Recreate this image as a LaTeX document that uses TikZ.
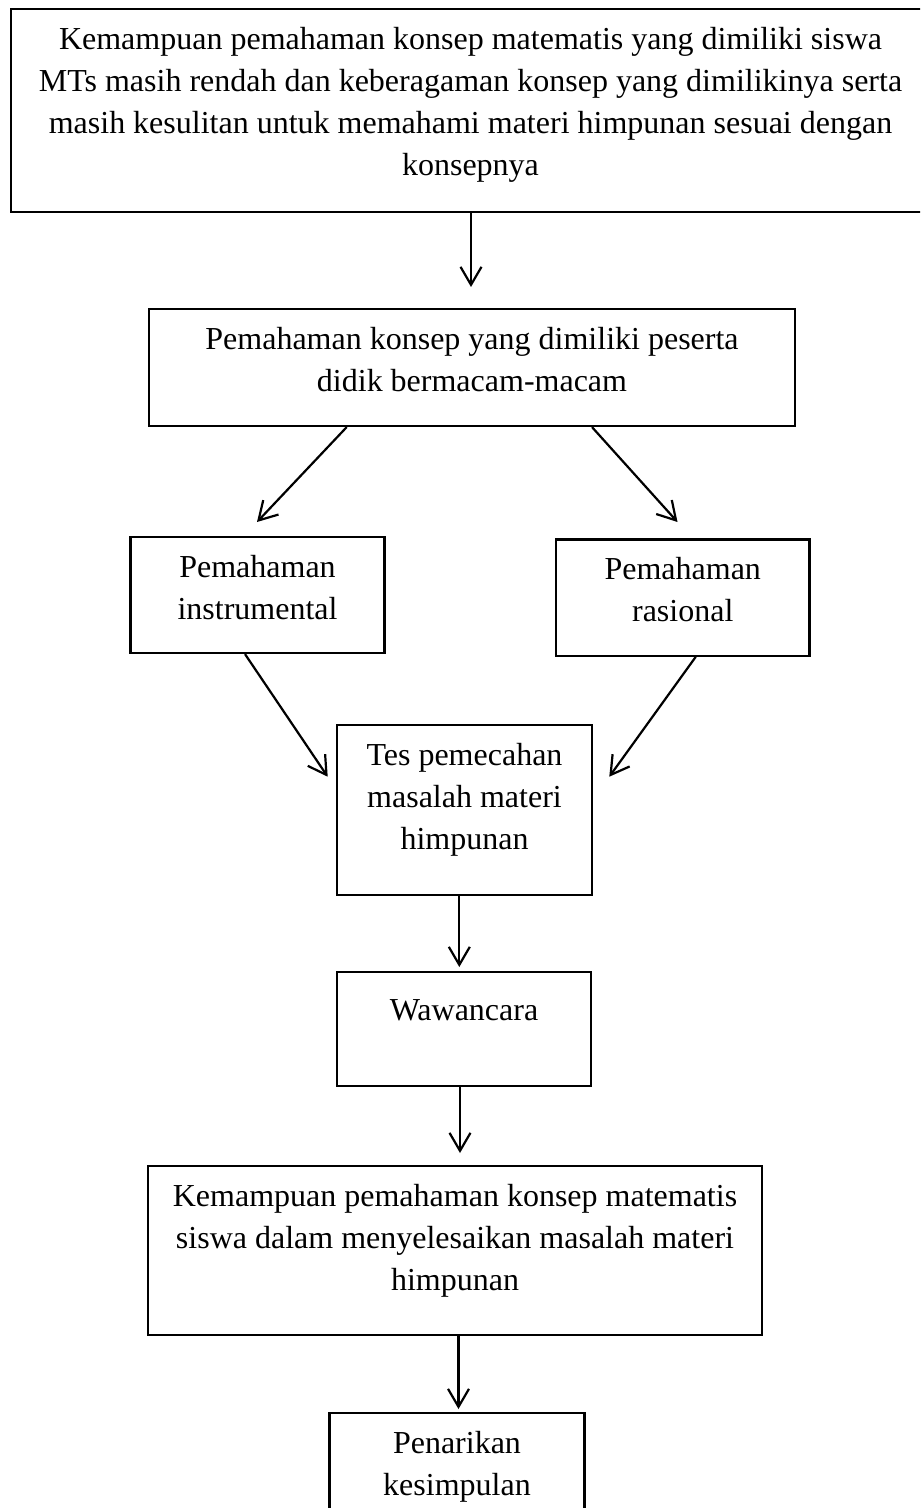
\documentclass[tikz,border=0pt]{standalone}
\usepackage{fontspec}
\setmainfont{Liberation Serif}
\usetikzlibrary{arrows.meta}
\tikzset{
  box/.style={draw, line width=1.1pt, inner sep=0pt, rectangle},
  txt/.style={anchor=north, inner sep=0pt, align=center, font=\fontsize{16}{21}\selectfont},
  arr/.style={line width=1.1pt, -{Straight Barb[length=9pt,width=10.5pt,line width=1.1pt]}, line join=miter}
}
\begin{document}
\begin{tikzpicture}[x=0.5pt,y=-0.5pt]
\useasboundingbox (0,0) rectangle (920,1508);
\clip (0,0) rectangle (920,1508);
\fill[white] (0,0) rectangle (920,1508);
% boxes
\node[box, minimum width=459.5pt, minimum height=101.5pt] (b1) at (470.5,110.5) {};
\node[box, minimum width=323pt, minimum height=58.5pt] (b2) at (472,367.5) {};
\node[box, minimum width=127pt, minimum height=58pt] (b3) at (257.5,595) {};
\node[box, minimum width=126.75pt, minimum height=58.1pt] (b4) at (682.75,597.6) {};
\node[box, minimum width=127.5pt, minimum height=85pt] (b5) at (464.5,810) {};
\node[box, minimum width=127pt, minimum height=57pt] (b6) at (464,1029) {};
\node[box, minimum width=307pt, minimum height=84.5pt] (b7) at (455,1250.5) {};
\node[box, minimum width=127.5pt, minimum height=63.5pt] (b8) at (457,1476.5) {};
% texts
\node[txt] (l1) at ([yshift=-5.8pt]b1.north) {\strut Kemampuan pemahaman konsep matematis yang dimiliki siswa\\MTs masih rendah dan keberagaman konsep yang dimilikinya serta\\masih kesulitan untuk memahami materi himpunan sesuai dengan\\konsepnya};
\node[txt] (l2) at ([yshift=-5.8pt]b2.north) {\strut Pemahaman konsep yang dimiliki peserta\\didik bermacam-macam};
\node[txt] (l3) at ([yshift=-5.8pt]b3.north) {\strut Pemahaman\\instrumental};
\node[txt] (l4) at ([yshift=-5.8pt]b4.north) {\strut Pemahaman\\rasional};
\node[txt] (l5) at ([yshift=-5.8pt]b5.north) {\strut Tes pemecahan\\masalah materi\\himpunan};
\node[txt] (l6) at ([yshift=-10pt]b6.north) {\strut Wawancara};
\node[txt] (l7) at ([yshift=-5.8pt]b7.north) {\strut Kemampuan pemahaman konsep matematis\\siswa dalam menyelesaikan masalah materi\\himpunan};
\node[txt] (l8) at ([yshift=-5.8pt]b8.north) {\strut Penarikan\\kesimpulan};
% arrow tips
\coordinate (t1) at (471,287);
\coordinate (t2) at (257,522);
\coordinate (t3) at (677.5,522);
\coordinate (t4) at (327.7,776.7);
\coordinate (t5) at (609.3,776.7);
\coordinate (t6) at (459.3,967);
\coordinate (t7) at (460,1153);
\coordinate (t8) at (458.5,1409);
% connectors
\draw[arr] (b1.south -| t1) -- (t1);
\draw[arr] ([xshift=-62.65pt]b2.south) -- (t2);
\draw[arr] ([xshift=60pt]b2.south) -- (t3);
\draw[arr] ([xshift=-6.25pt]b3.south) -- (t4);
\draw[arr] ([xshift=6.5pt]b4.south) -- (t5);
\draw[arr] (b5.south -| t6) -- (t6);
\draw[arr] (b6.south -| t7) -- (t7);
\draw[arr] (b7.south -| t8) -- (t8);
\end{tikzpicture}
\end{document}
